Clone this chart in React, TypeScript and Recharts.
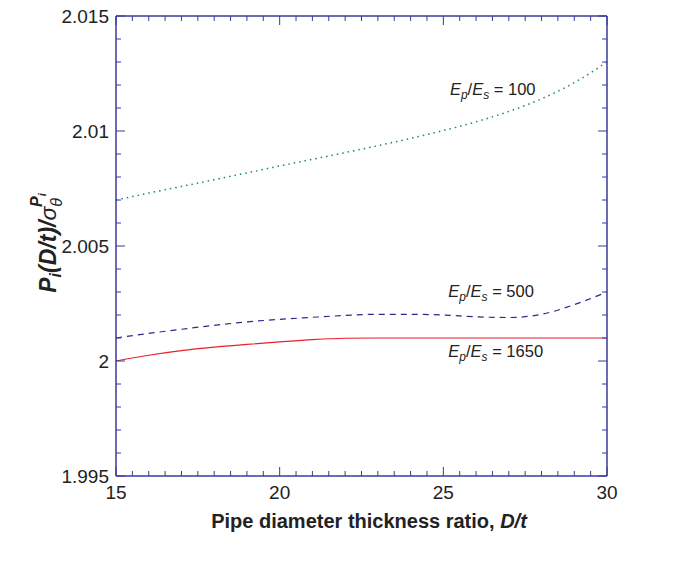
import React from "react";
import { LineChart, Line, XAxis, YAxis, ReferenceDot } from "recharts";

const dtValues = [15, 16, 17, 18, 19, 20, 21, 22, 23, 24, 25, 26, 27, 28, 29, 30];
const ratio100 = [2.007, 2.0073, 2.00759, 2.00788, 2.00818, 2.00848, 2.00877, 2.00906, 2.00936, 2.00968, 2.01002, 2.0104, 2.01085, 2.0114, 2.0121, 2.013];
const ratio500 = [2.001, 2.0012, 2.00138, 2.00155, 2.0017, 2.00181, 2.0019, 2.00198, 2.00203, 2.00203, 2.002, 2.00192, 2.00189, 2.00203, 2.00245, 2.003];
const ratio1650 = [2.0, 2.00025, 2.00045, 2.0006, 2.00072, 2.00083, 2.00093, 2.00099, 2.001, 2.001, 2.001, 2.001, 2.001, 2.001, 2.001, 2.001];

const xMajorTicks = [15, 20, 25, 30];
const xAllTicks = [15, 15.5, 16, 16.5, 17, 17.5, 18, 18.5, 19, 19.5, 20, 20.5, 21, 21.5, 22, 22.5, 23, 23.5, 24, 24.5, 25, 25.5, 26, 26.5, 27, 27.5, 28, 28.5, 29, 29.5, 30];
const yMajorTicks = [1.995, 2, 2.005, 2.01, 2.015];
const yAllTicks = [1.995, 1.996, 1.997, 1.998, 1.999, 2, 2.001, 2.002, 2.003, 2.004, 2.005, 2.006, 2.007, 2.008, 2.009, 2.01, 2.011, 2.012, 2.013, 2.014, 2.015];

const labels = [
  { x: 25.2, y: 2.01157, value: "100" },
  { x: 25.15, y: 2.00278, value: "500" },
  { x: 25.15, y: 2.00017, value: "1650" },
];

const data = dtValues.map((d, i) => ({
  dt: d,
  r100: ratio100[i],
  r500: ratio500[i],
  r1650: ratio1650[i],
}));

const AXIS = "#3a3a9a";
const FONT = "'Liberation Sans', Arial, sans-serif";
const TICK_FS = 19;
const MINOR = 5;
const MAJOR = 9;
const XMARGIN = 10;
const YMARGIN = 8;

const isMajor = (v: number, majors: number[]) => majors.some((m) => Math.abs(m - v) < 1e-9);

const BottomTick = (props: any) => {
  const { x, y, payload } = props;
  const v = payload.value;
  const axisY = y - XMARGIN;
  const major = isMajor(v, xMajorTicks);
  return (
    <g>
      <line x1={x} x2={x} y1={axisY} y2={axisY - (major ? MAJOR : MINOR)} stroke={AXIS} strokeWidth={1} />
      {major && (
        <text x={x} y={axisY + 23} textAnchor="middle" fontFamily={FONT} fontSize={TICK_FS} fill="#222">
          {String(v)}
        </text>
      )}
    </g>
  );
};

const TopTick = (props: any) => {
  const { x, y, payload } = props;
  const major = isMajor(payload.value, xMajorTicks);
  return <line x1={x} x2={x} y1={y} y2={y + (major ? MAJOR : MINOR)} stroke={AXIS} strokeWidth={1} />;
};

const LeftTick = (props: any) => {
  const { x, y, payload } = props;
  const v = payload.value;
  const axisX = x + YMARGIN;
  const major = isMajor(v, yMajorTicks);
  return (
    <g>
      <line x1={axisX} x2={axisX + (major ? MAJOR : MINOR)} y1={y} y2={y} stroke={AXIS} strokeWidth={1} />
      {major && (
        <text x={axisX - 7} y={y + 7} textAnchor="end" fontFamily={FONT} fontSize={TICK_FS} fill="#222">
          {String(v)}
        </text>
      )}
    </g>
  );
};

const RightTick = (props: any) => {
  const { x, y, payload } = props;
  const major = isMajor(payload.value, yMajorTicks);
  return <line x1={x} x2={x - (major ? MAJOR : MINOR)} y1={y} y2={y} stroke={AXIS} strokeWidth={1} />;
};

const AnnotLabel = (value: string) => (props: any) => {
  const vb = props.viewBox || {};
  const x = vb.x + (vb.width || 0) / 2;
  const y = vb.y + (vb.height || 0) / 2;
  return (
    <text x={x} y={y} fontFamily={FONT} fontSize={16.5} fill="#222">
      <tspan fontStyle="italic">E</tspan>
      <tspan fontStyle="italic" fontSize={12} dy={4}>p</tspan>
      <tspan dy={-4}>/</tspan>
      <tspan fontStyle="italic">E</tspan>
      <tspan fontStyle="italic" fontSize={12} dy={4}>s</tspan>
      <tspan dy={-4}>{" = " + value}</tspan>
    </text>
  );
};

const YLabel = () => (
  <text
    transform="translate(56, 243) rotate(-90)"
    textAnchor="middle"
    fontFamily={FONT}
    fontSize={23}
    fontWeight="bold"
    fill="#222"
  >
    <tspan fontStyle="italic">P</tspan>
    <tspan fontStyle="italic" fontSize={16} dy={5}>i</tspan>
    <tspan fontStyle="italic" dy={-5}>(D/t)/</tspan>
    <tspan fontWeight="normal" fontStyle="italic">σ</tspan>
    <tspan fontWeight="normal" fontStyle="italic" fontSize={16} dy={6}>θ</tspan>
    <tspan fontStyle="italic" fontSize={16} dy={-20} dx={-9}>P</tspan>
    <tspan fontStyle="italic" fontSize={11} dy={4}>i</tspan>
  </text>
);

export default function App() {
  return (
    <div style={{ position: "absolute", left: 0, top: 0, width: 678, height: 561, background: "#fff" }}>
      <LineChart width={678} height={561} data={data} margin={{ top: 15, right: 70, bottom: 55, left: 0 }}>
        <XAxis
          xAxisId={0}
          dataKey="dt"
          type="number"
          domain={[15, 30]}
          ticks={xAllTicks}
          interval={0}
          tickLine={false}
          tickSize={0}
          tickMargin={XMARGIN}
          height={30}
          axisLine={{ stroke: AXIS, strokeWidth: 1.5 }}
          tick={<BottomTick />}
          allowDataOverflow
        />
        <XAxis
          xAxisId="top"
          dataKey="dt"
          orientation="top"
          type="number"
          domain={[15, 30]}
          ticks={xAllTicks}
          interval={0}
          tickLine={false}
          tickSize={0}
          tickMargin={0}
          height={1}
          axisLine={{ stroke: AXIS, strokeWidth: 1.5 }}
          tick={<TopTick />}
          allowDataOverflow
        />
        <YAxis
          yAxisId={0}
          type="number"
          domain={[1.995, 2.015]}
          ticks={yAllTicks}
          interval={0}
          width={116}
          tickLine={false}
          tickSize={0}
          tickMargin={YMARGIN}
          axisLine={{ stroke: AXIS, strokeWidth: 1.5 }}
          tick={<LeftTick />}
          allowDataOverflow
          label={<YLabel />}
        />
        <YAxis
          yAxisId="right"
          orientation="right"
          type="number"
          domain={[1.995, 2.015]}
          ticks={yAllTicks}
          interval={0}
          width={1}
          tickLine={false}
          tickSize={0}
          tickMargin={0}
          axisLine={{ stroke: AXIS, strokeWidth: 1.5 }}
          tick={<RightTick />}
          allowDataOverflow
        />

        <Line dataKey="r100" type="monotone" stroke="#1b8a66" strokeWidth={1.5} strokeDasharray="1.5 4" dot={false} isAnimationActive={false} />
        <Line dataKey="r500" type="monotone" stroke="#2a2a8c" strokeWidth={1.2} strokeDasharray="6 5" dot={false} isAnimationActive={false} />
        <Line dataKey="r1650" type="monotone" stroke="#e8202a" strokeWidth={1.2} dot={false} isAnimationActive={false} />

        {labels.map((l) => (
          <ReferenceDot key={l.value} x={l.x} y={l.y} r={0} fill="none" stroke="none" label={AnnotLabel(l.value)} />
        ))}
      </LineChart>
      <div
        style={{
          position: "absolute",
          left: 0,
          width: 738,
          top: 510,
          textAlign: "center",
          fontFamily: FONT,
          fontSize: 20,
          fontWeight: "bold",
          color: "#222",
        }}
      >
        Pipe diameter thickness ratio, <i>D/t</i>
      </div>
    </div>
  );
}
